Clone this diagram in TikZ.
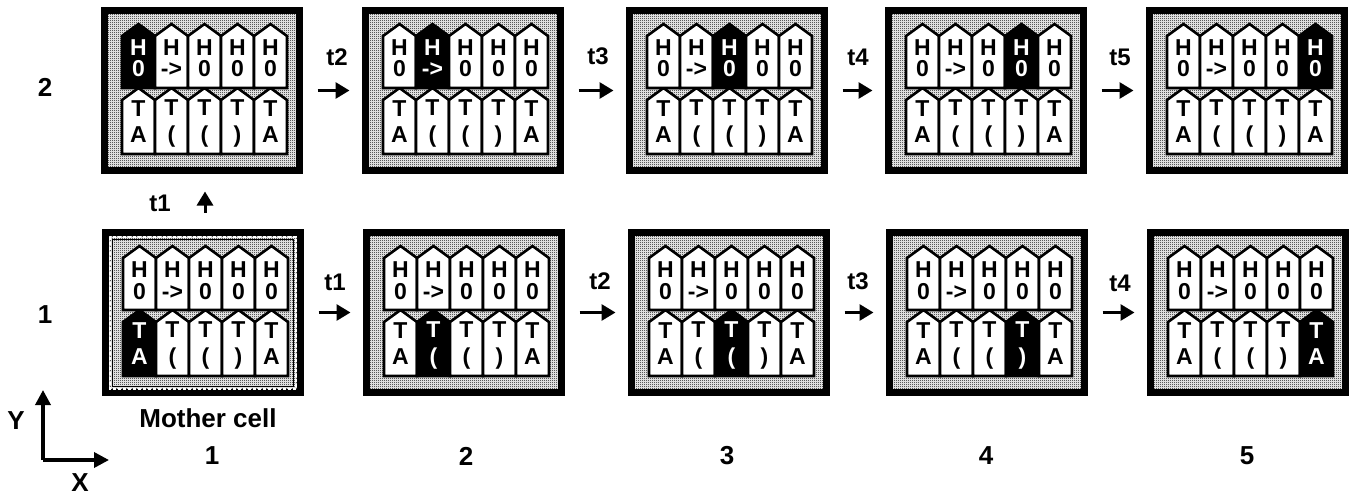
\documentclass[tikz,border=0pt]{standalone}
\usepackage{fontspec}
\setmainfont{Liberation Sans}
\usetikzlibrary{arrows.meta,patterns}
\pgfdeclarepatternformonly{stipple}{\pgfpointorigin}{\pgfqpoint{2pt}{2pt}}{\pgfqpoint{2pt}{2pt}}{%
  \pgfpathrectangle{\pgfpointorigin}{\pgfqpoint{1pt}{1pt}}%
  \pgfpathrectangle{\pgfqpoint{1pt}{1pt}}{\pgfqpoint{1pt}{1pt}}%
  \pgfusepath{fill}}
\tikzset{
  cellbox/.style={draw=black, line width=7pt, fill=black!20, pattern=stipple, pattern color=black,
    minimum width=195pt, minimum height=160pt, inner sep=0pt, outer sep=0pt, anchor=north west},
  tile/.style={draw=black, line width=2.6pt, line join=miter},
  tiletxt/.style={font=\bfseries\fontsize{23}{23}\selectfont, inner sep=0pt, anchor=base},
  lbl/.style={font=\bfseries\fontsize{24}{24}\selectfont, inner sep=0pt},
  biglbl/.style={font=\bfseries\fontsize{26}{26}\selectfont, inner sep=0pt},
  steparrow/.style={-{Triangle[length=14pt,width=16pt]}, line width=3pt},
  axarrow/.style={-{Triangle[length=15pt,width=15pt]}, line width=3.5pt},
}
\newcommand\drawcell[5]{%
  \node[cellbox] (#1) at (#2+3.5,#3+3.5) {};
  \foreach \i in {1,...,5}{%
    \pgfmathsetmacro\L{#2+21+33*(\i-1)}%
    \pgfmathsetmacro\R{\L+33}%
    \pgfmathsetmacro\M{\L+16.5}%
    \ifnum\i=#5 \def\tfb{black}\def\tcb{white}\else\def\tfb{white}\def\tcb{black}\fi
    \draw[tile, fill=\tfb] (\L,#3+147) -- (\L,#3+93) -- (\M,#3+81) -- (\R,#3+93) -- (\R,#3+147) -- cycle;
    \node[tiletxt, text=\tcb] (#1b\i) at (\M,#3+135)
      {\shortstack{T\\[6.5pt]\ifcase\i\or A\or (\or (\or )\or A\fi}};
    \ifnum\i=#4 \def\tft{black}\def\tct{white}\else\def\tft{white}\def\tct{black}\fi
    \draw[tile, fill=\tft] (\L,#3+81) -- (\L,#3+29) -- (\M,#3+17) -- (\R,#3+29) -- (\R,#3+81) -- cycle;
    \ifnum\i=2
      \node[tiletxt, text=\tct] (#1h\i) at (\M,#3+70) {\shortstack{H\\[2pt]\vphantom{0}->}};
    \else
      \node[tiletxt, text=\tct] (#1h\i) at (\M,#3+70) {\shortstack{H\\[2pt]0}};
    \fi
  }%
}
\begin{document}
\begin{tikzpicture}[x=1pt,y=-1pt]
\fill[white] (0,0) rectangle (1354,495);
\useasboundingbox (0,0) rectangle (1354,495);
% top row (row 2)
\drawcell{u1}{101}{7}{1}{0}
\drawcell{u2}{362}{7}{2}{0}
\drawcell{u3}{626}{7}{3}{0}
\drawcell{u4}{885}{7}{4}{0}
\drawcell{u5}{1146}{7}{5}{0}
% bottom row (row 1)
\drawcell{d1}{102}{229}{0}{1}
\drawcell{d2}{363}{229}{0}{2}
\drawcell{d3}{628}{229}{0}{3}
\drawcell{d4}{886}{229}{0}{4}
\drawcell{d5}{1147}{229}{0}{5}
% mother cell inner frame
\draw[white, line width=1.2pt, dash pattern=on 3pt off 2pt] (110,237) rectangle (296,389);
\draw[black, line width=0.8pt] (112.5,239.5) rectangle (293.5,386.5);
% arrows
\draw[steparrow, shorten <=18pt, shorten >=16pt] (u1.east) -- (u2.west);
\draw[steparrow, shorten <=18pt, shorten >=16pt] (u2.east) -- (u3.west);
\draw[steparrow, shorten <=18pt, shorten >=16pt] (u3.east) -- (u4.west);
\draw[steparrow, shorten <=18pt, shorten >=16pt] (u4.east) -- (u5.west);
\draw[steparrow, shorten <=18pt, shorten >=16pt] (d1.east) -- (d2.west);
\draw[steparrow, shorten <=18pt, shorten >=16pt] (d2.east) -- (d3.west);
\draw[steparrow, shorten <=18pt, shorten >=16pt] (d3.east) -- (d4.west);
\draw[steparrow, shorten <=18pt, shorten >=16pt] (d4.east) -- (d5.west);
\draw[steparrow, shorten <=20pt, shorten >=21pt] ([xshift=2pt]d1.north) -- ([xshift=3pt]u1.south);
% arrow labels
\node[lbl] (lu2) at (337,57) {t2};
\node[lbl] (lu3) at (598,56) {t3};
\node[lbl] (lu4) at (858,57) {t4};
\node[lbl] (lu5) at (1120,57) {t5};
\node[lbl] (ld1) at (335,282) {t1};
\node[lbl] (ld2) at (600,281) {t2};
\node[lbl] (ld3) at (858,281) {t3};
\node[lbl] (ld4) at (1120,283) {t4};
\node[lbl] (lv1) at (160,203) {t1};
% row and column labels
\node[biglbl] (row2) at (45,87) {2};
\node[biglbl] (row1) at (45,315) {1};
\node[lbl, font=\bfseries\fontsize{26}{26}\selectfont] (mother) at (208,418) {Mother cell};
\node[biglbl] (col1) at (212,456) {1};
\node[biglbl] (col2) at (466,456) {2};
\node[biglbl] (col3) at (727,456) {3};
\node[biglbl] (col4) at (986,456) {4};
\node[biglbl] (col5) at (1247,456) {5};
% axes
\coordinate (origin) at (43,460);
\coordinate (ytip) at (43,390);
\coordinate (xtip) at (109,460);
\draw[axarrow] (origin) -- (ytip);
\draw[axarrow] (origin) -- (xtip);
\node[biglbl] (ylbl) at (16,421) {Y};
\node[biglbl] (xlbl) at (80,483) {X};
\end{tikzpicture}
\end{document}
